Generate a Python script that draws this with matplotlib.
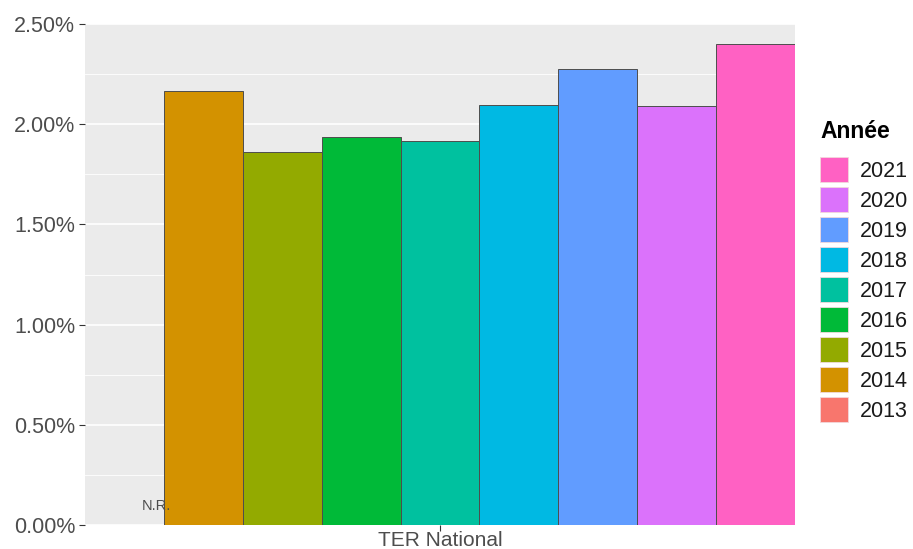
import matplotlib
matplotlib.use("Agg")
import matplotlib.pyplot as plt
from matplotlib.patches import Patch
from matplotlib.ticker import FuncFormatter, MultipleLocator

# data (percent)
years = ["2013", "2014", "2015", "2016", "2017", "2018", "2019", "2020", "2021"]
values = [0.0, 2.165, 1.86, 1.935, 1.915, 2.095, 2.275, 2.09, 2.40]
colors = ["#F8766D", "#D39200", "#93AA00", "#00BA38", "#00C19F",
          "#00B9E3", "#619CFF", "#DB72FB", "#FF61C3"]
category = "TER National"
missing_label = "N.R."

plt.rcParams['font.family'] = ['Liberation Sans', 'DejaVu Sans']

fig = plt.figure(figsize=(9.13, 5.49), dpi=100)
W, H = 913, 549
ax = fig.add_axes([85 / W, (H - 525) / H, 710 / W, 501 / H])
ax.set_facecolor("#EBEBEB")

n = len(years)
width = 0.9 / n
for i, (yr, v, c) in enumerate(zip(years, values, colors)):
    x = (i - (n - 1) / 2) * width
    if v > 0:
        ax.bar(x, v, width=width, color=c, edgecolor="#4D4D4D", linewidth=0.7, zorder=3)
    else:
        ax.text(x + 0.04, 0.095, missing_label, ha="center", va="center",
                fontsize=10.5, color="#4D4D4D", zorder=4)

ax.set_xlim(-0.45, 0.45)
ax.set_ylim(0, 2.5)
ax.set_xticks([0])
ax.set_xticklabels([category])
ax.yaxis.set_major_locator(MultipleLocator(0.5))
ax.yaxis.set_minor_locator(MultipleLocator(0.25))
ax.yaxis.set_major_formatter(FuncFormatter(lambda v, p: "%.2f%%" % v))

ax.grid(True, which="major", axis="y", color="white", linewidth=1.2, zorder=0)
ax.grid(True, which="minor", axis="y", color="white", linewidth=0.6, zorder=0)
ax.set_axisbelow(True)
for s in ax.spines.values():
    s.set_visible(False)

ax.tick_params(axis="both", which="major", labelsize=15.5, labelcolor="#4D4D4D",
               color="#333333", length=4, width=0.8, pad=3)
ax.tick_params(axis="x", which="major", labelsize=15, pad=0.5)
ax.tick_params(axis="y", which="minor", length=0)

handles = [Patch(facecolor=c, edgecolor="#F2D8DC", linewidth=0.6, label=yr)
           for yr, c in zip(years, colors)][::-1]
leg = fig.legend(handles=handles, title="Année", loc="upper left",
                 bbox_to_anchor=(816 / W, (H - 116) / H), frameon=False,
                 fontsize=15.5, title_fontproperties={"weight": "bold", "size": 16.5},
                 handlelength=1.3, handleheight=1.4, labelspacing=0.24,
                 handletextpad=0.55, alignment="left", borderaxespad=0,
                 borderpad=0.2)
leg._legend_box.sep = 10
for t in leg.get_texts():
    t.set_color("#1A1A1A")

fig.savefig("out.png", dpi=100)
